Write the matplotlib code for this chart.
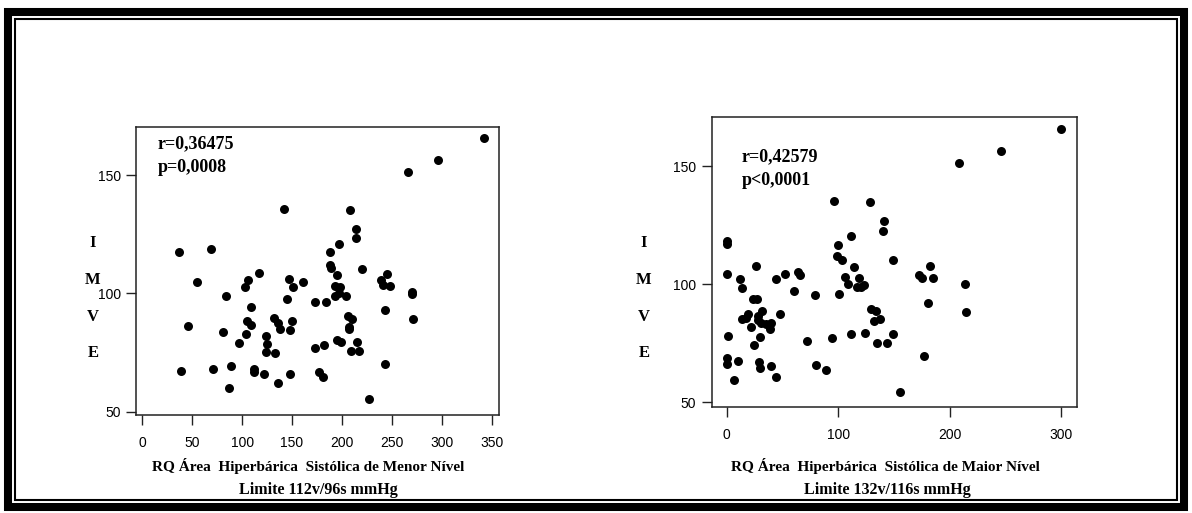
import numpy as np
import matplotlib.pyplot as plt
from matplotlib.patches import Rectangle

# RQ area (menor nivel) x IMVE
x_menor = [141.7, 37.1, 68.5, 54.8, 116.9, 105.9, 103.2, 147.3, 150.6, 161.0,
           83.9, 145.0, 173.3, 184.4, 108.6, 46.1, 105.2, 109.1, 132.4, 136.4,
           137.7, 149.6, 148.3, 80.9, 103.6, 124.2, 97.2, 124.9, 123.9, 133.3,
           172.7, 182.4, 38.5, 71.2, 89.2, 111.9, 112.2, 122.2, 148.3, 176.7,
           181.4, 87.2, 135.7, 342.4, 296.6, 265.9, 208.4, 214.1, 213.8, 197.4,
           187.8, 188.4, 189.4, 220.5, 194.8, 192.8, 198.1, 193.1, 197.4, 204.1,
           239.2, 240.9, 245.5, 248.1, 269.9, 269.9, 243.5, 270.9, 206.1, 210.4,
           207.4, 206.8, 195.4, 199.4, 215.1, 209.1, 217.4, 243.2, 226.9]
y_menor = [135.6, 117.6, 118.6, 104.9, 108.4, 105.5, 102.7, 105.9, 102.8, 104.6,
           98.9, 97.5, 96.2, 96.4, 94.2, 86.2, 88.3, 86.6, 89.4, 87.3,
           84.9, 88.3, 84.5, 83.5, 82.7, 81.8, 78.9, 78.6, 75.3, 74.9,
           76.8, 78.2, 67.2, 68.0, 69.4, 67.9, 66.6, 65.8, 66.0, 66.9,
           64.8, 60.1, 62.0, 165.5, 156.3, 151.4, 135.2, 127.0, 123.2, 120.8,
           117.3, 112.0, 110.8, 110.3, 107.7, 103.2, 102.5, 98.9, 100.0, 98.9,
           105.6, 103.5, 108.3, 103.2, 100.7, 99.6, 92.9, 89.0, 90.5, 89.1,
           85.9, 84.8, 80.3, 79.3, 79.6, 75.6, 75.6, 70.1, 55.2]

# RQ area (maior nivel) x IMVE
x_maior = [96.6, 128.6, 141.5, 140.6, 111.3, 0.3, 0.3, 99.6, 99.0, 103.2,
           149.0, 114.0, 26.3, 0.3, 11.7, 14.0, 44.0, 52.3, 63.7, 65.8,
           60.7, 79.5, 106.2, 109.2, 100.8, 118.8, 116.7, 120.3, 123.5, 23.3,
           26.9, 13.5, 18.9, 17.1, 21.5, 27.8, 31.4, 30.5, 28.4, 35.3,
           39.8, 39.1, 47.6, 29.6, 24.8, 1.4, 0.3, 0.3, 10.4, 29.3,
           29.9, 40.0, 44.3, 6.6, 71.8, 94.3, 111.3, 124.4, 79.9, 89.1,
           129.3, 133.8, 132.5, 137.3, 135.2, 143.6, 149.0, 300.1, 246.5, 208.3,
           182.5, 172.6, 175.6, 185.2, 213.9, 180.4, 214.5, 177.1, 155.8]
y_maior = [135.4, 134.9, 126.9, 122.7, 120.5, 118.3, 117.2, 116.8, 112.0, 110.4,
           110.2, 107.2, 107.8, 104.2, 102.1, 98.6, 102.4, 104.5, 105.2, 103.8,
           97.2, 95.6, 103.1, 100.3, 96.0, 102.7, 98.9, 98.9, 99.9, 93.9,
           93.9, 85.2, 87.5, 85.7, 81.9, 86.6, 88.7, 83.7, 84.7, 83.1,
           83.7, 80.9, 87.5, 77.7, 74.2, 78.0, 68.8, 66.4, 67.4, 67.1,
           64.5, 65.3, 60.7, 59.3, 76.0, 77.1, 78.8, 79.4, 65.9, 63.8,
           89.7, 88.6, 84.6, 85.4, 75.1, 75.1, 79.1, 165.7, 156.6, 151.4,
           107.6, 104.1, 102.7, 102.8, 100.0, 92.1, 88.3, 69.5, 54.4]

W, H = 1192, 513
fig = plt.figure(figsize=(W / 100, H / 100), dpi=100)

def fx(px):
    return px / W

def fy(py):
    return 1 - py / H

serif = "Liberation Serif"
sans = "Liberation Sans"

paineis = [
    dict(x=x_menor, y=y_menor, box=(136, 127, 499, 415), xlim=(-6.3, 357.4),
         ylim=(48.6, 170.3), xticks=[0, 50, 100, 150, 200, 250, 300, 350],
         r="r=0,36475", p="p=0,0008", txy=(0.06, 0.943, 0.859),
         lab1="RQ Área  Hiperbárica  Sistólica de Menor Nível", c1=308,
         lab2="Limite 112v/96s mmHg", c2=318, ylx=93),
    dict(x=x_maior, y=y_maior, box=(711.7, 117, 1077.3, 407), xlim=(-13.5, 314.7),
         ylim=(48.0, 170.9), xticks=[0, 100, 200, 300],
         r="r=0,42579", p="p<0,0001", txy=(0.082, 0.862, 0.782),
         lab1="RQ Área  Hiperbárica  Sistólica de Maior Nível", c1=885,
         lab2="Limite 132v/116s mmHg", c2=887, ylx=644),
]

for pn in paineis:
    l, t, r, b = pn["box"]
    ax = fig.add_axes([fx(l), fy(b), (r - l) / W, (b - t) / H])
    ax.scatter(pn["x"], pn["y"], s=42, c="black", marker="o", linewidths=0)
    ax.set_xlim(*pn["xlim"])
    ax.set_ylim(*pn["ylim"])
    ax.set_xticks(pn["xticks"])
    ax.set_yticks([50, 100, 150])
    for sp in ax.spines.values():
        sp.set_linewidth(1.1)
        sp.set_color("#222222")
    ax.tick_params(axis="both", direction="out", length=7, width=1, color="#222222",
                   labelsize=10)
    ax.tick_params(axis="x", pad=8)
    ax.tick_params(axis="y", pad=4)
    for lb in ax.get_xticklabels() + ax.get_yticklabels():
        lb.set_fontfamily(sans)
    tx, ty1, ty2 = pn["txy"]
    ax.text(tx, ty1, pn["r"], transform=ax.transAxes, fontfamily=serif,
            fontweight="bold", fontsize=13, va="center", ha="left")
    ax.text(tx, ty2, pn["p"], transform=ax.transAxes, fontfamily=serif,
            fontweight="bold", fontsize=13, va="center", ha="left")
    fig.text(fx(pn["c1"]), fy(466), pn["lab1"], fontfamily=serif, fontweight="bold",
             fontsize=11, ha="center", va="center")
    fig.text(fx(pn["c2"]), fy(490), pn["lab2"], fontfamily=serif, fontweight="bold",
             fontsize=11.5, ha="center", va="center")
    for letra, yy in zip("IMVE", [243, 280, 317, 353]):
        fig.text(fx(pn["ylx"]), fy(yy), letra, fontfamily=serif, fontweight="bold",
                 fontsize=12, ha="center", va="center")

# moldura dupla
fig.patches.append(Rectangle((fx(8), fy(507)), fx(1184 - 8), (507 - 11.5) / H,
                             transform=fig.transFigure, fill=False, lw=5.8,
                             edgecolor="black"))
fig.patches.append(Rectangle((fx(15.3), fy(500)), fx(1177 - 15.3), (500 - 18.7) / H,
                             transform=fig.transFigure, fill=False, lw=1.5,
                             edgecolor="black"))

fig.savefig("out.png", dpi=100)
